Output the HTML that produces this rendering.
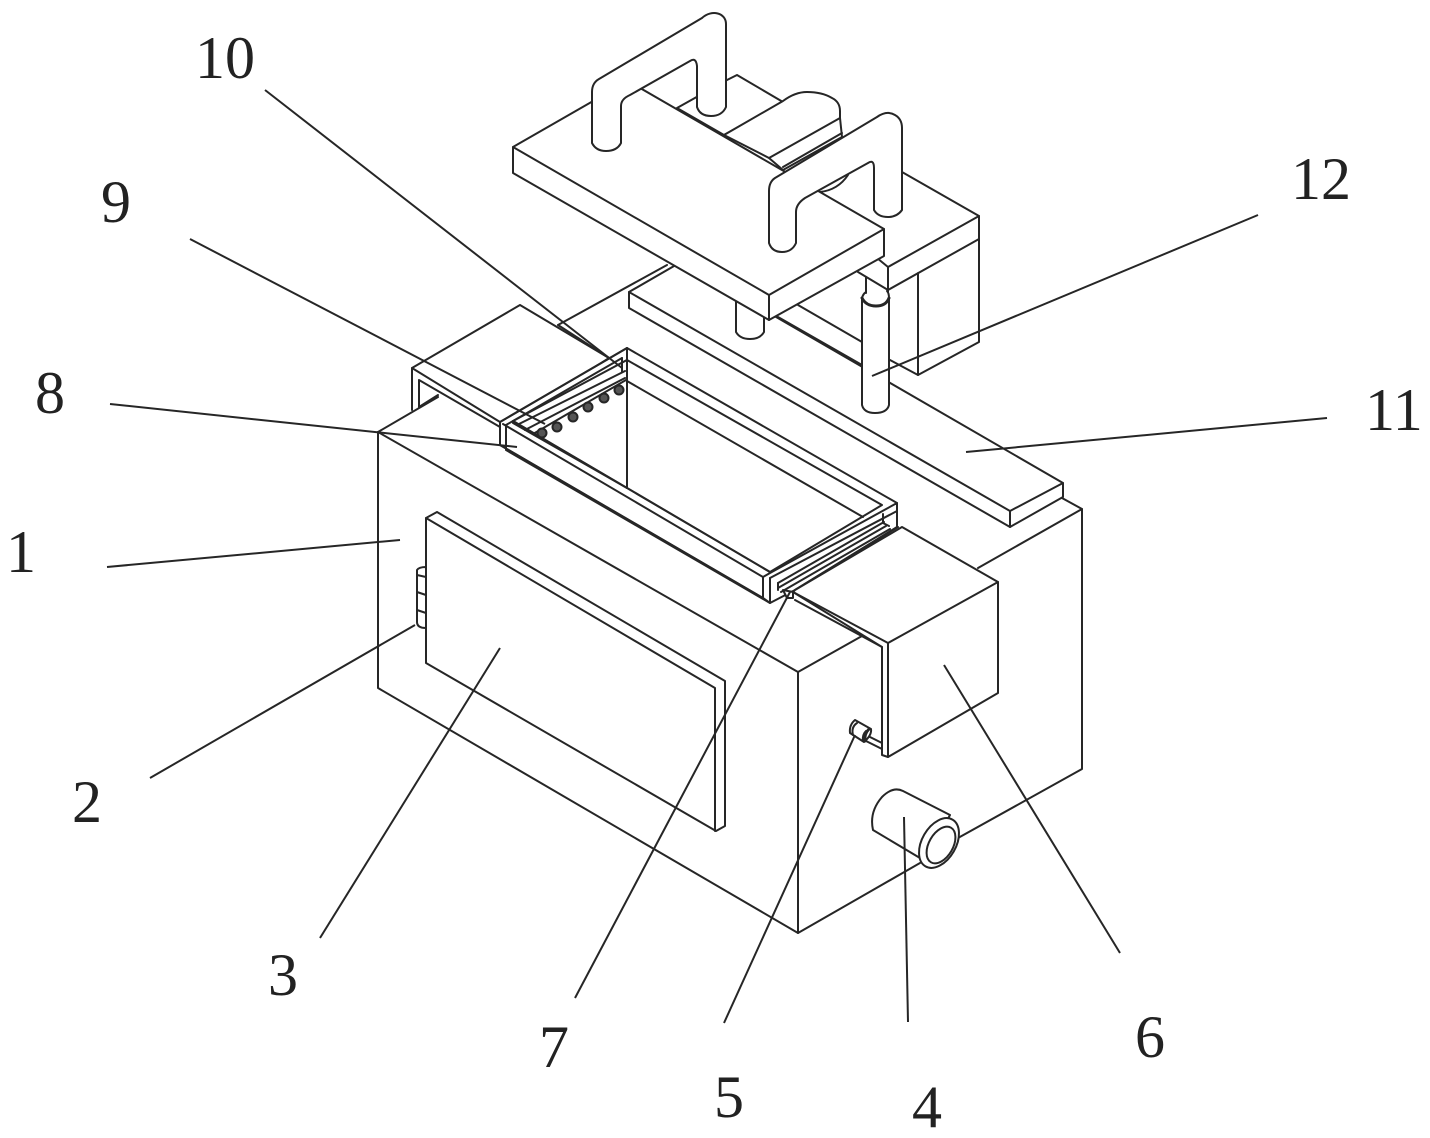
<!DOCTYPE html>
<html>
<head>
<meta charset="utf-8">
<style>
html,body{margin:0;padding:0;background:#fff;}
svg{display:block;}
text{font-family:"Liberation Serif",serif;font-size:60px;fill:#222;}
.s{fill:none;stroke:#262626;stroke-width:2;stroke-linejoin:round;stroke-linecap:round;}
.f{fill:#fff;stroke:#262626;stroke-width:2;stroke-linejoin:round;stroke-linecap:round;}
.w{fill:#fff;stroke:none;}
.l{fill:none;stroke:#262626;stroke-width:2;stroke-linecap:butt;}
</style>
</head>
<body>
<svg width="1430" height="1138" viewBox="0 0 1430 1138" xmlns="http://www.w3.org/2000/svg">
<!-- main box -->
<path class="s" d="M378 432V688L798 933L920 863M958 838L1082 769V509L1062 498"/>
<path class="s" d="M378 432L798 672V933M798 672L862 636M978 568L1082 509"/>
<path class="s" d="M378 432L438 397M558 325L667 265"/>

<!-- door and hinge -->
<path class="f" d="M417 570Q419 567 426 567V628Q417 628 417 622Z"/>
<path class="s" d="M417 575L426 577M417 592L426 595M417 610L426 613"/>
<path class="f" d="M426 518L437 512L725 681V826L716 831L426 663Z"/>
<path class="s" d="M426 518L715 688V831"/>

<!-- pipe 4 -->
<path class="f" d="M903 791Q893 786 882 797Q869 812 873 830L925 861L950 815Z"/>
<ellipse class="f" cx="939" cy="843" rx="17" ry="27" transform="rotate(30 939 843)"/>
<ellipse class="f" cx="941" cy="845" rx="12" ry="20" transform="rotate(30 941 845)"/>

<!-- valve 5 -->
<path class="f" d="M866 735L882 743V749L862 739Z"/>
<path class="f" d="M855 720L871 729Q872 735 864 742L850 733Q849 725 855 720Z"/>
<path class="s" d="M857 723Q851 727 853 735M866 731Q862 735 863 741"/>
<path class="s" style="stroke-width:3" d="M869 729Q864 734 865 741"/>

<!-- plate 11 -->
<path class="f" d="M629 292L681 262L1063 483V497L1010 527L629 308Z"/>
<path class="s" d="M629 292L1010 511V527M1010 511L1063 483"/>

<!-- block behind -->
<path class="s" d="M902 172L979 216V342L918 375L890 360"/>
<path class="s" d="M888 267L979 216M979 239L888 290L858 272M918 273V375M877 258L888 267"/>
<path class="s" d="M798 305L862 342M778 317L862 365"/>

<!-- piston -->
<path class="f" d="M862 298V405Q864 413 875 413Q887 413 889 405V298"/>
<path class="s" style="stroke-width:3" d="M862 298Q866 306 876 306Q886 306 889 298"/>
<path class="s" d="M862 298Q863 294 866 292M889 298Q889 293 887 291"/>
<path class="s" d="M866 293V277M888 292V267"/>

<!-- post -->
<path class="f" d="M736 290V332Q740 339 750 339Q760 339 764 332V290Z"/>

<!-- motor and back of upper plate -->
<path class="f" d="M677 108L727 80L737 75L783 102L724 135Z"/>
<path class="f" d="M724 135L783 101Q795 92 807 92Q822 92 832 98Q840 102 840 111V118L842 137L783 170L769 158Z"/>
<path class="s" d="M769 158L840 118M783 167L842 133"/>
<path class="s" d="M820 192Q838 190 848 175"/>

<!-- upper plate -->
<path class="f" d="M513 147L628 81L884 229V256L769 320L513 173Z"/>
<path class="s" d="M513 147L769 295L884 229M769 295V320"/>

<!-- handles -->
<path class="f" d="M592 143V92Q592 83 599 79L702 18C712 9 726 13 726 24V107Q722 116 711 116Q700 116 697 107V66Q696 57 690 61L630 95Q621 99 621 106V143Q617 151 606 151Q596 151 592 143Z"/>
<path class="f" d="M769 239V191Q769 182 775 178L877 117Q887 110 895 115Q902 119 902 128V210Q897 217 888 217Q878 217 874 210V168Q874 159 868 163L805 198Q796 204 796 212V243Q792 252 782 252Q772 252 769 243Z"/>

<!-- left lid -->
<path class="f" d="M412 368L520 305L609 358L506 425L500 422Z"/>
<path class="s" d="M412 368V410M419 380V407M419 380L500 427M438 395L419 407"/>
<path class="s" d="M558 325L609 358"/>

<!-- frame -->
<path class="f" d="M500 422L627 348L897 503V527L795 590L770 603L763 598L500 445Z"/>
<path class="f" d="M513 423L627 360V488Z"/>
<path class="f" d="M627 360L882 505L770 572L513 421Z"/>
<path class="s" d="M627 360V488M627 381L863 517"/>
<path class="s" d="M503 424L763 577V598L500 445V422M506 425V450L770 603V578M513 421L770 572M506 450L763 598"/>
<path class="s" d="M500 422L627 348M506 425L622 358M517 425L625 371M525 430L625 378M533 434L626 380"/>
<path class="s" d="M622 358V372M627 348V381"/>
<path class="s" d="M763 577L770 573L897 503L897 527M770 578L897 511M778 583L884 522M778 588L886 526M781 592L890 529M795 590L898 527"/>
<path class="s" d="M778 583V590M883 514V523L889 526"/>
<path class="f" d="M783 590L793 592V598H787Z"/>
<g fill="#555" stroke="#262626" stroke-width="2">
<circle cx="542" cy="433" r="4.5"/><circle cx="557" cy="427" r="4.5"/><circle cx="573" cy="417" r="4.5"/><circle cx="588" cy="407" r="4.5"/><circle cx="604" cy="398" r="4.5"/><circle cx="619" cy="390" r="4.5"/>
</g>

<!-- right lid -->
<path class="f" d="M793 592L882 647V755L888 757L998 693V582L902 527L795 590Z"/>
<path class="s" d="M795 600L882 647M793 592L888 643L998 582M888 643V757"/>

<!-- leader lines -->
<path class="l" d="M265 90L622 368"/>
<path class="l" d="M190 239L545 424"/>
<path class="l" d="M110 404L517 447"/>
<path class="l" d="M107 567L400 540"/>
<path class="l" d="M150 778L415 625"/>
<path class="l" d="M320 938L500 648"/>
<path class="l" d="M575 998L790 592"/>
<path class="l" d="M724 1023L855 735"/>
<path class="l" d="M908 1022L904 817"/>
<path class="l" d="M1120 953L944 665"/>
<path class="l" d="M1327 418L966 452"/>
<path class="l" d="M1258 215L872 376"/>

<!-- labels -->
<text x="195" y="78">10</text>
<text x="101" y="222">9</text>
<text x="35" y="413">8</text>
<text x="6" y="572">1</text>
<text x="72" y="822">2</text>
<text x="268" y="995">3</text>
<text x="539" y="1067">7</text>
<text x="714" y="1117">5</text>
<text x="912" y="1127">4</text>
<text x="1135" y="1057">6</text>
<text x="1365" y="430">11</text>
<text x="1291" y="199">12</text>
</svg>
</body>
</html>
